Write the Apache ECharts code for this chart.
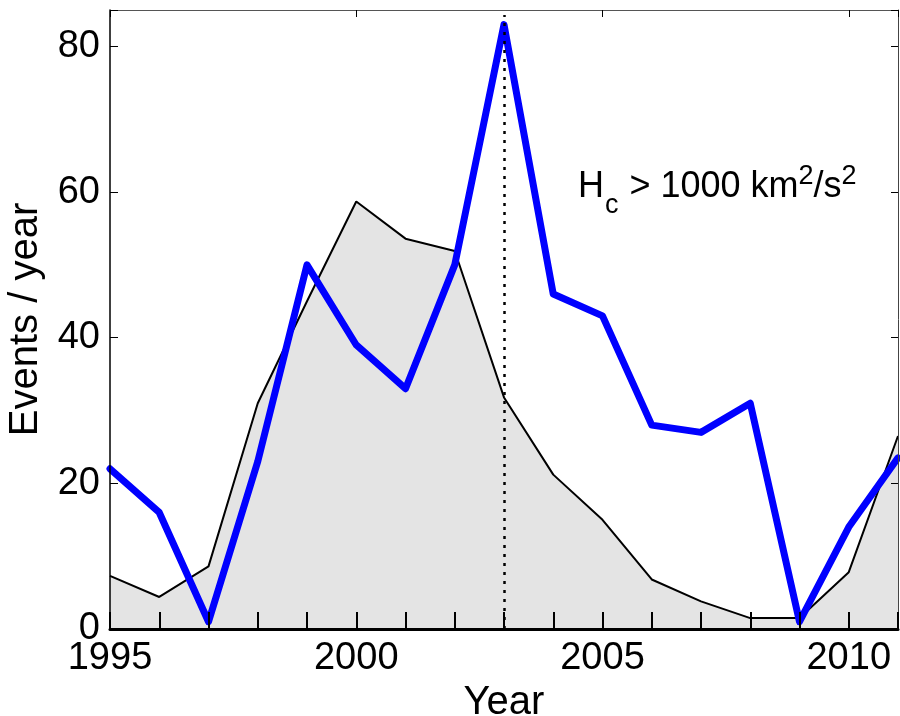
<!DOCTYPE html>
<html>
<head>
<meta charset="utf-8">
<script src="https://cdn.jsdelivr.net/npm/echarts@6/dist/echarts.min.js"></script>
<style>
  html, body { margin: 0; padding: 0; background: #fff; }
  #chart { width: 900px; height: 716px; }
</style>
</head>
<body>
<div id="chart"></div>
<script>
// years on the x axis
var years = [1995, 1996, 1997, 1998, 1999, 2000, 2001, 2002, 2003, 2004, 2005, 2006, 2007, 2008, 2009, 2010, 2011];
// thick blue line: events with Hc > 1000 km2/s2
var eventsPerYear = [22, 16, 1, 23, 50, 39, 33, 50, 83, 46, 43, 28, 27, 31, 1, 14, 23.5];
// thin black line with grey fill (solar cycle reference)
var cycleCurve = [7.3, 4.4, 8.6, 31, 45, 58.7, 53.6, 51.9, 31.8, 21.2, 15, 6.8, 3.8, 1.5, 1.5, 7.8, 26.5];
// peak year marked with a dotted line
var peakYear = 2003;
var yTicks = [0, 20, 40, 60, 80];
var xLabels = [1995, 2000, 2005, 2010];

var font = "'Liberation Sans', Arial, sans-serif";

function pairs(vals) {
  return years.map(function(y, i) { return [y, vals[i]]; });
}

var chart = echarts.init(document.getElementById('chart'));

var option = {
  backgroundColor: '#fff',
  animation: false,
  grid: { left: 110, right: 2, top: 10, bottom: 87, show: false, containLabel: false, outerBoundsMode: 'none' },
  xAxis: [{
    type: 'value', min: 1995, max: 2011, interval: 1, z: 10,
    name: 'Year', nameLocation: 'middle', nameGap: 44,
    nameTextStyle: { fontFamily: font, fontSize: 40, color: '#000' },
    axisLine: { show: true, lineStyle: { color: '#000', width: 3 } },
    axisTick: { show: true, inside: true, length: 17, lineStyle: { color: '#000', width: 2 } },
    axisLabel: {
      fontFamily: font, fontSize: 38, color: '#000', margin: 11,
      formatter: function(v) { return xLabels.indexOf(v) >= 0 ? String(v) : ''; }
    },
    splitLine: { show: false }
  }, {
    type: 'value', min: 1995, max: 2011, interval: 5, position: 'top', z: 10,
    axisLine: { show: true, onZero: false, lineStyle: { color: '#555', width: 1 } },
    axisTick: { show: true, inside: true, length: 7, lineStyle: { color: '#000', width: 1 } },
    axisLabel: { show: false },
    splitLine: { show: false }
  }],
  yAxis: [{
    type: 'value', min: 0, max: 85, interval: 20, z: 10,
    name: 'Events / year', nameLocation: 'middle', nameGap: 64,
    nameTextStyle: { fontFamily: font, fontSize: 40, color: '#000' },
    axisLine: { show: true, lineStyle: { color: '#000', width: 1.5 } },
    axisTick: { show: true, inside: true, length: 8, lineStyle: { color: '#000', width: 1 } },
    axisLabel: {
      fontFamily: font, fontSize: 38, color: '#000', margin: 10,
      formatter: function(v) { return yTicks.indexOf(v) >= 0 ? String(v) : ''; }
    },
    splitLine: { show: false }
  }, {
    type: 'value', min: 0, max: 85, interval: 20, position: 'right', z: 10,
    axisLine: { show: true, onZero: false, lineStyle: { color: '#444', width: 1 } },
    axisTick: { show: true, inside: true, length: 7, lineStyle: { color: '#000', width: 1 } },
    axisLabel: { show: false },
    splitLine: { show: false }
  }],
  series: [{
    type: 'line', name: 'cycle', data: pairs(cycleCurve),
    symbol: 'none', z: 1,
    lineStyle: { color: '#000', width: 2 },
    areaStyle: { color: '#e4e4e4', opacity: 1 },
    markLine: {
      silent: true, symbol: 'none', label: { show: false },
      lineStyle: { color: '#000', width: 2.5, type: [3, 6] },
      data: [[{ coord: [peakYear, 0] }, { coord: [peakYear, 84.3] }]]
    }
  }, {
    type: 'line', name: 'events', data: pairs(eventsPerYear),
    symbol: 'none', z: 3,
    lineStyle: { color: '#0000ff', width: 7, join: 'round', cap: 'round' }
  }],
  graphic: [{
    type: 'text', left: 578, top: 163, z: 20,
    style: {
      text: '{n|H}{sub|c}{n| > 1000 km}{sup|2}{n|/s}{sup|2}',
      rich: {
        n: { fontFamily: font, fontSize: 36, fill: '#000', verticalAlign: 'bottom', lineHeight: 40 },
        sub: { fontFamily: font, fontSize: 27, fill: '#000', padding: [0, 1, -14, 1], lineHeight: 40, verticalAlign: 'bottom' },
        sup: { fontFamily: font, fontSize: 27, fill: '#000', padding: [0, 0, 15, 0], lineHeight: 40, verticalAlign: 'bottom' }
      }
    }
  }]
};

chart.setOption(option);
</script>
</body>
</html>
